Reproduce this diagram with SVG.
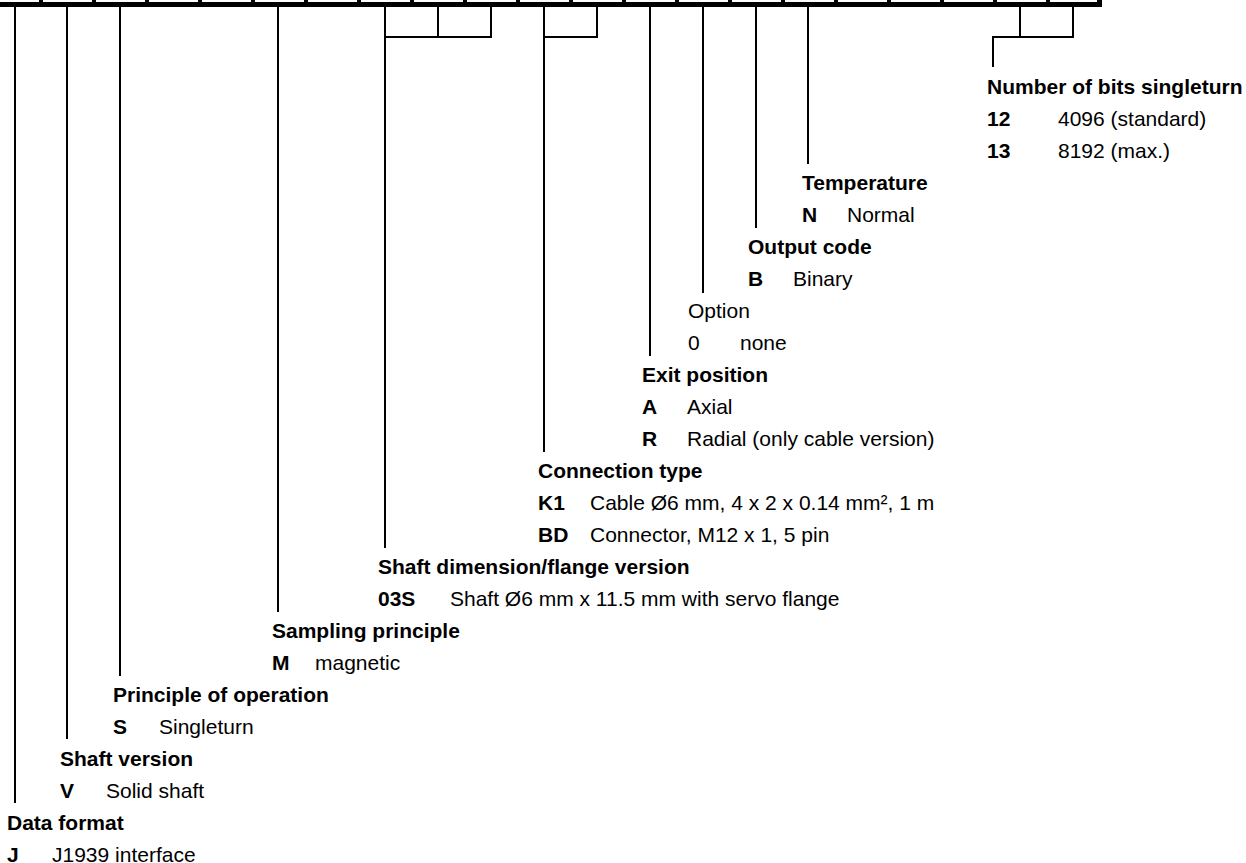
<svg xmlns="http://www.w3.org/2000/svg" width="1246" height="863" viewBox="0 0 1246 863">
<style>
text{font-family:"Liberation Sans",Arial,Helvetica,sans-serif;font-size:21px;fill:#000}
.b{font-weight:bold}
.ln{stroke:#000;stroke-width:2;fill:none}
</style>
<rect width="1246" height="863" fill="#fff"/>
<g id="bar">
<rect x="0" y="2" width="1102" height="5" fill="#000"/>
<rect x="1097" y="0" width="5" height="7" fill="#000"/>
<g fill="#000">
<rect x="39" y="0" width="4" height="3"/><rect x="92" y="0" width="4" height="3"/><rect x="145" y="0" width="4" height="3"/><rect x="198" y="0" width="4" height="3"/><rect x="251" y="0" width="4" height="3"/><rect x="304" y="0" width="4" height="3"/><rect x="357" y="0" width="4" height="3"/><rect x="410" y="0" width="4" height="3"/><rect x="463" y="0" width="4" height="3"/><rect x="516" y="0" width="4" height="3"/><rect x="569" y="0" width="4" height="3"/><rect x="622" y="0" width="4" height="3"/><rect x="675" y="0" width="4" height="3"/><rect x="728" y="0" width="4" height="3"/><rect x="781" y="0" width="4" height="3"/><rect x="834" y="0" width="4" height="3"/><rect x="887" y="0" width="4" height="3"/><rect x="940" y="0" width="4" height="3"/><rect x="993" y="0" width="4" height="3"/><rect x="1046" y="0" width="4" height="3"/>
</g>
</g>
<g id="connectors" class="ln">
<path d="M15 7V803"/>
<path d="M67 7V739"/>
<path d="M120 7V676"/>
<path d="M278 7V612"/>
<path d="M385 7V548M438 7V37M491 7V37M384 37H492"/>
<path d="M544 7V452M597 7V37M543 37H598"/>
<path d="M650 7V356"/>
<path d="M703 7V293"/>
<path d="M756 7V228"/>
<path d="M808 7V164"/>
<path d="M1020 7V37M1073 7V37M992 37H1074M993 37V67"/>
</g>
<g id="bits">
<text class="b" x="987" y="94">Number of bits singleturn</text>
<text class="b" x="987" y="126">12</text><text x="1058" y="126">4096 (standard)</text>
<text class="b" x="987" y="158">13</text><text x="1058" y="158">8192 (max.)</text>
</g>
<g id="temperature">
<text class="b" x="802" y="190">Temperature</text>
<text class="b" x="802" y="222">N</text><text x="847" y="222">Normal</text>
</g>
<g id="output-code">
<text class="b" x="748" y="254">Output code</text>
<text class="b" x="748" y="286">B</text><text x="793" y="286">Binary</text>
</g>
<g id="option">
<text x="688" y="318">Option</text>
<text x="688" y="350">0</text><text x="740" y="350">none</text>
</g>
<g id="exit-position">
<text class="b" x="642" y="382">Exit position</text>
<text class="b" x="642" y="414">A</text><text x="687" y="414">Axial</text>
<text class="b" x="642" y="446">R</text><text x="687" y="446">Radial (only cable version)</text>
</g>
<g id="connection-type">
<text class="b" x="538" y="478">Connection type</text>
<text class="b" x="538" y="510">K1</text><text x="590" y="510">Cable Ø6 mm, 4 x 2 x 0.14 mm², 1 m</text>
<text class="b" x="538" y="542">BD</text><text x="590" y="542">Connector, M12 x 1, 5 pin</text>
</g>
<g id="shaft-dimension">
<text class="b" x="378" y="574">Shaft dimension/flange version</text>
<text class="b" x="378" y="606">03S</text><text x="450" y="606">Shaft Ø6 mm x 11.5 mm with servo flange</text>
</g>
<g id="sampling-principle">
<text class="b" x="272" y="638">Sampling principle</text>
<text class="b" x="272" y="670">M</text><text x="315" y="670">magnetic</text>
</g>
<g id="principle-of-operation">
<text class="b" x="113" y="702">Principle of operation</text>
<text class="b" x="113" y="734">S</text><text x="159" y="734">Singleturn</text>
</g>
<g id="shaft-version">
<text class="b" x="60" y="766">Shaft version</text>
<text class="b" x="60" y="798">V</text><text x="106" y="798">Solid shaft</text>
</g>
<g id="data-format">
<text class="b" x="7" y="830">Data format</text>
<text class="b" x="7" y="862">J</text><text x="52" y="862">J1939 interface</text>
</g>
</svg>
